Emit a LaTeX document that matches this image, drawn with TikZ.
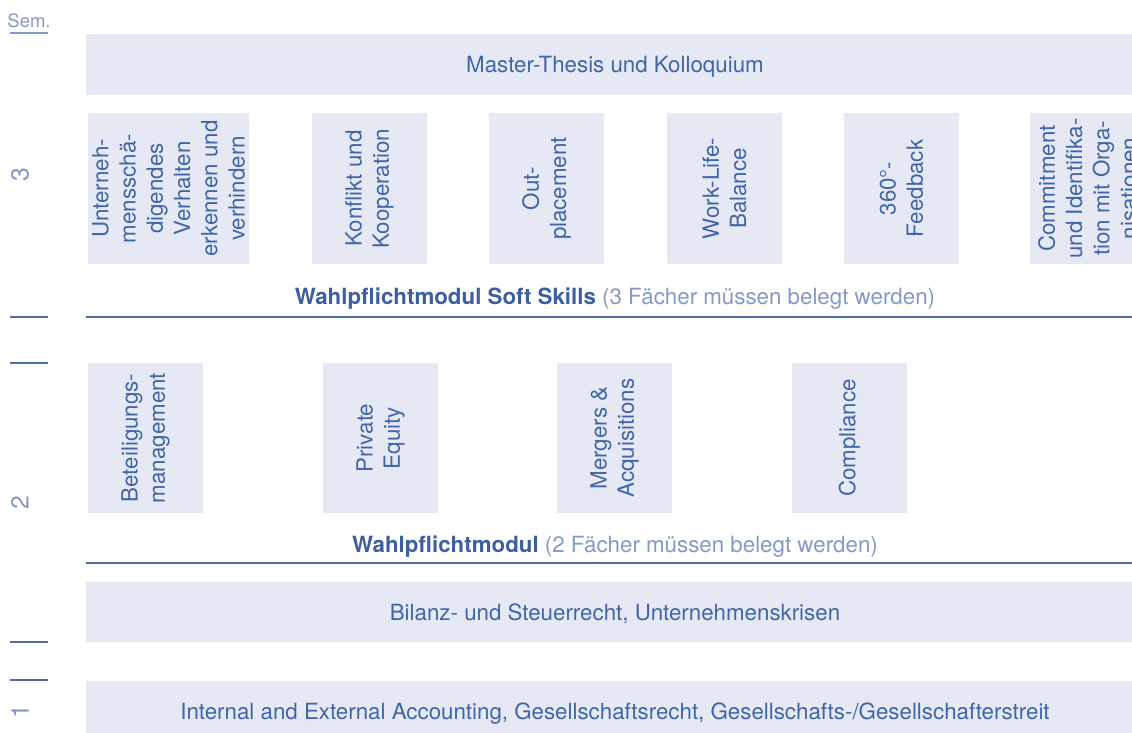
\documentclass[tikz,border=0pt]{standalone}
\usepackage{fontspec}
\setmainfont{TeX Gyre Heros}
\usepackage{xcolor}

\definecolor{boxfill}{HTML}{E6E9F3}
\definecolor{txtblue}{HTML}{3F66A8}
\definecolor{headblue}{HTML}{3D5FA0}
\definecolor{lightblue}{HTML}{8598C6}
\definecolor{rulecol}{HTML}{4F6DAA}

\begin{document}
\begin{tikzpicture}[x=0.02cm, y=0.02cm]
      \tikzstyle{every node}+=[inner sep=0pt, text=txtblue, font=\fontsize{12.7}{15.5}\selectfont]
      \tikzstyle{fach}=[rotate=90, align=center]
      \tikzstyle{semnum}=[rotate=90, text=lightblue, font=\fontsize{14}{16}\selectfont]
      \tikzstyle{tick}=[rulecol, line width=0.8pt]
      \clip (0,0) rectangle (1132,-733);
      % semester axis
      \draw (29,-21) node (sem) [text=lightblue, font=\fontsize{10.5}{12}\selectfont] {Sem.};
      \draw [lightblue, line width=0.6pt] (10,-33) -- (48,-33);
      \draw (20,-175) node (s3) [semnum] {3};
      \draw (20,-503) node (s2) [semnum] {2};
      \draw (20,-712) node (s1) [semnum] {1};
      \draw [tick] (10,-317) -- (48,-317);
      \draw [tick] (10,-363) -- (48,-363);
      \draw [tick] (10,-642) -- (48,-642);
      \draw [tick] (10,-680) -- (48,-680);
      % semester 3
      \fill [boxfill] (86,-34) rectangle (1132,-95);
      \draw (615,-66.5) node (thesis) {Master-Thesis und Kolloquium};
      \fill [boxfill] (88,-113) rectangle (249,-264);
      \draw (168.5,-188.5) node (soft1) [fach] {Unterneh-\\mensschä-\\digendes\\Verhalten\\erkennen und\\verhindern};
      \fill [boxfill] (312,-113) rectangle (427,-264);
      \draw (369.5,-188.5) node (soft2) [fach] {Konflikt und\\Kooperation};
      \fill [boxfill] (489,-113) rectangle (604,-264);
      \draw (546.5,-188.5) node (soft3) [fach] {Out-\\placement};
      \fill [boxfill] (667,-113) rectangle (782,-264);
      \draw (724.5,-188.5) node (soft4) [fach] {Work-Life-\\Balance};
      \fill [boxfill] (844,-113) rectangle (959,-264);
      \draw (901.5,-188.5) node (soft5) [fach] {360°-\\Feedback};
      \fill [boxfill] (1030,-113) rectangle (1145,-264);
      \draw (1087.5,-188.5) node (soft6) [fach] {Commitment\\und Identifika-\\tion mit Orga-\\nisationen};
      \draw (615,-299) node (softhead) {\textcolor{headblue}{\bfseries Wahlpflichtmodul Soft Skills} \textcolor{lightblue}{(3 Fächer müssen belegt werden)}};
      \draw [tick] (86,-317) -- (1132,-317);
      % semester 2
      \fill [boxfill] (88,-363) rectangle (203,-513);
      \draw (145.5,-438) node (wahl1) [fach] {Beteiligungs-\\management};
      \fill [boxfill] (323,-363) rectangle (438,-513);
      \draw (380.5,-438) node (wahl2) [fach] {Private\\Equity};
      \fill [boxfill] (557,-363) rectangle (672,-513);
      \draw (614.5,-438) node (wahl3) [fach] {Mergers \&\\Acquisitions};
      \fill [boxfill] (792,-363) rectangle (907,-513);
      \draw (849.5,-438) node (wahl4) [fach] {Compliance};
      \draw (615,-547) node (wahlhead) {\textcolor{headblue}{\bfseries Wahlpflichtmodul} \textcolor{lightblue}{(2 Fächer müssen belegt werden)}};
      \draw [tick] (86,-563) -- (1132,-563);
      % semester 2 and 1
      \fill [boxfill] (86,-582) rectangle (1132,-642);
      \draw (615,-614) node (bilanz) {Bilanz- und Steuerrecht, Unternehmenskrisen};
      \fill [boxfill] (86,-681) rectangle (1132,-740);
      \draw (615,-714) node (basis) {Internal and External Accounting, Gesellschaftsrecht, Gesellschafts-/Gesellschafterstreit};
    \end{tikzpicture}
\end{document}
